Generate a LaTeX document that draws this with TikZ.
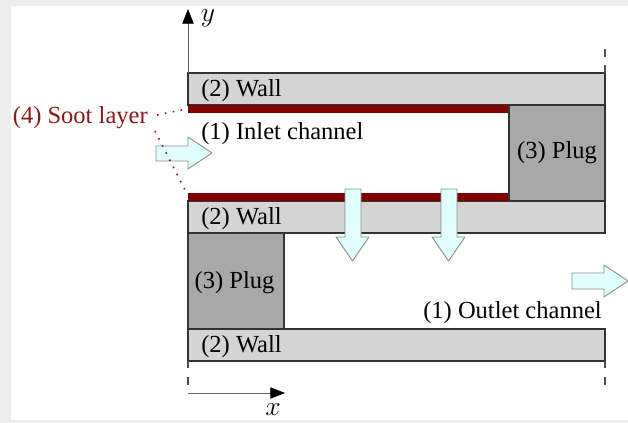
\documentclass[tikz,border=0pt]{standalone}
\usepackage{fontspec}
\setmainfont{Liberation Serif}
\usetikzlibrary{arrows.meta}
\definecolor{sootred}{rgb}{0.5,0,0}
\definecolor{sootlabel}{rgb}{0.55,0.1,0.1}
\definecolor{wallgray}{rgb}{0.83,0.83,0.83}
\definecolor{pluggray}{rgb}{0.66,0.66,0.66}
\definecolor{flowcyan}{rgb}{0.88,1,1}
\tikzset{
  wall/.style={draw=black!80,line width=0.8pt,fill=wallgray},
  plug/.style={draw=black!80,line width=0.8pt,fill=pluggray},
  soot/.style={fill=sootred},
  flow/.style={draw=black!45,line width=0.7pt,fill=flowcyan,line join=round},
  axisline/.style={draw=black!60,line width=0.6pt,-{Triangle[length=11pt,width=8.5pt,black]}},
  tick/.style={draw=black!70,line width=0.8pt},
  leader/.style={draw=sootlabel,line width=1.2pt,dash pattern=on 1.2pt off 4.8pt},
  label/.style={inner sep=0.75pt,font=\fontsize{18.4}{22}\selectfont},
  axislabel/.style={inner sep=0.75pt,font=\fontsize{21}{24}\selectfont},
}
\begin{document}
\begin{tikzpicture}[x=0.75pt,y=0.75pt,yscale=-1,xscale=1]
    \useasboundingbox (0,0) rectangle (628,423);
    %Background
    \fill[black!7] (0,0) rectangle (628,423);
    \fill[white] (11,6) rectangle (628,420);

    %Shape: Rectangle [walls]
    \draw[wall] (188,73) rectangle (605,105);
    \draw[wall] (188,201) rectangle (605,233);
    \draw[wall] (188,329) rectangle (605,361);
    %Shape: Rectangle [soot]
    \fill[soot] (188,105) rectangle (509,113.5);
    \fill[soot] (188,193) rectangle (509,201.5);
    %Shape: Rectangle [plugs]
    \draw[plug] (509,105) rectangle (605,201);
    \draw[plug] (188,233) rectangle (284,329);

    %Right Arrow [inlet]
    \draw[flow] (156,146) -- (188,146) -- (188,137) -- (212,153) -- (188,169) -- (188,161) -- (156,161) -- cycle;
    %Down Arrow
    \draw[flow] (345,189) -- (361,189) -- (361,237) -- (369,237) -- (352.5,261) -- (336,237) -- (345,237) -- cycle;
    %Down Arrow
    \draw[flow] (441,189) -- (457,189) -- (457,237) -- (465,237) -- (448.5,261) -- (432,237) -- (441,237) -- cycle;
    %Right Arrow [outlet]
    \draw[flow] (572,273) -- (604,273) -- (604,265) -- (628,281) -- (604,297) -- (604,289) -- (572,289) -- cycle;

    %Straight Lines [axes]
    \coordinate (yfoot) at (188,73);
    \coordinate (ytip) at (188,9);
    \coordinate (xfoot) at (188,393);
    \coordinate (xtip) at (285,393);
    \draw[axisline] (yfoot) -- (ytip);
    \draw[axisline] (xfoot) -- (xtip);
    %Straight Lines [ticks]
    \draw[tick] (605,73) -- (605,65);
    \draw[tick] (605,57) -- (605,49);
    \draw[tick] (188,361) -- (188,368);
    \draw[tick] (188,377) -- (188,385);
    \draw[tick] (605,361) -- (605,368);
    \draw[tick] (605,377) -- (605,385);

    % Text Node
    \node[label,anchor=west] (wallA) at (200,91) {(2) Wall};
    % Text Node
    \node[label,anchor=west] (wallB) at (200,219) {(2) Wall};
    % Text Node
    \node[label,anchor=west] (wallC) at (200,347) {(2) Wall};
    % Text Node
    \node[label,anchor=center] (plugA) at (557,153) {(3) Plug};
    % Text Node
    \node[label,anchor=center] (plugB) at (234.5,283) {(3) Plug};
    % Text Node
    \node[label,anchor=west] (inlet) at (200,134) {(1) Inlet channel};
    % Text Node
    \node[label,anchor=east] (outlet) at (603,313) {(1) Outlet channel};
    % Text Node
    \node[label,anchor=east,text=sootlabel] (sootlabel) at (149,118) {(4) Soot layer};
    % Text Node
    \node[axislabel,anchor=center] (ylabel) at (208,18) {$y$};
    % Text Node
    \node[axislabel,anchor=center] (xlabel) at (273,410) {$x$};

    %Straight Lines [leaders]
    \coordinate (sootA) at (186,109);
    \coordinate (sootB) at (186,192);
    \draw[leader] (sootlabel.east) ++(8,-3) -- (sootA);
    \draw[leader] (sootlabel.east) ++(6,13) -- (sootB);
\end{tikzpicture}
\end{document}
